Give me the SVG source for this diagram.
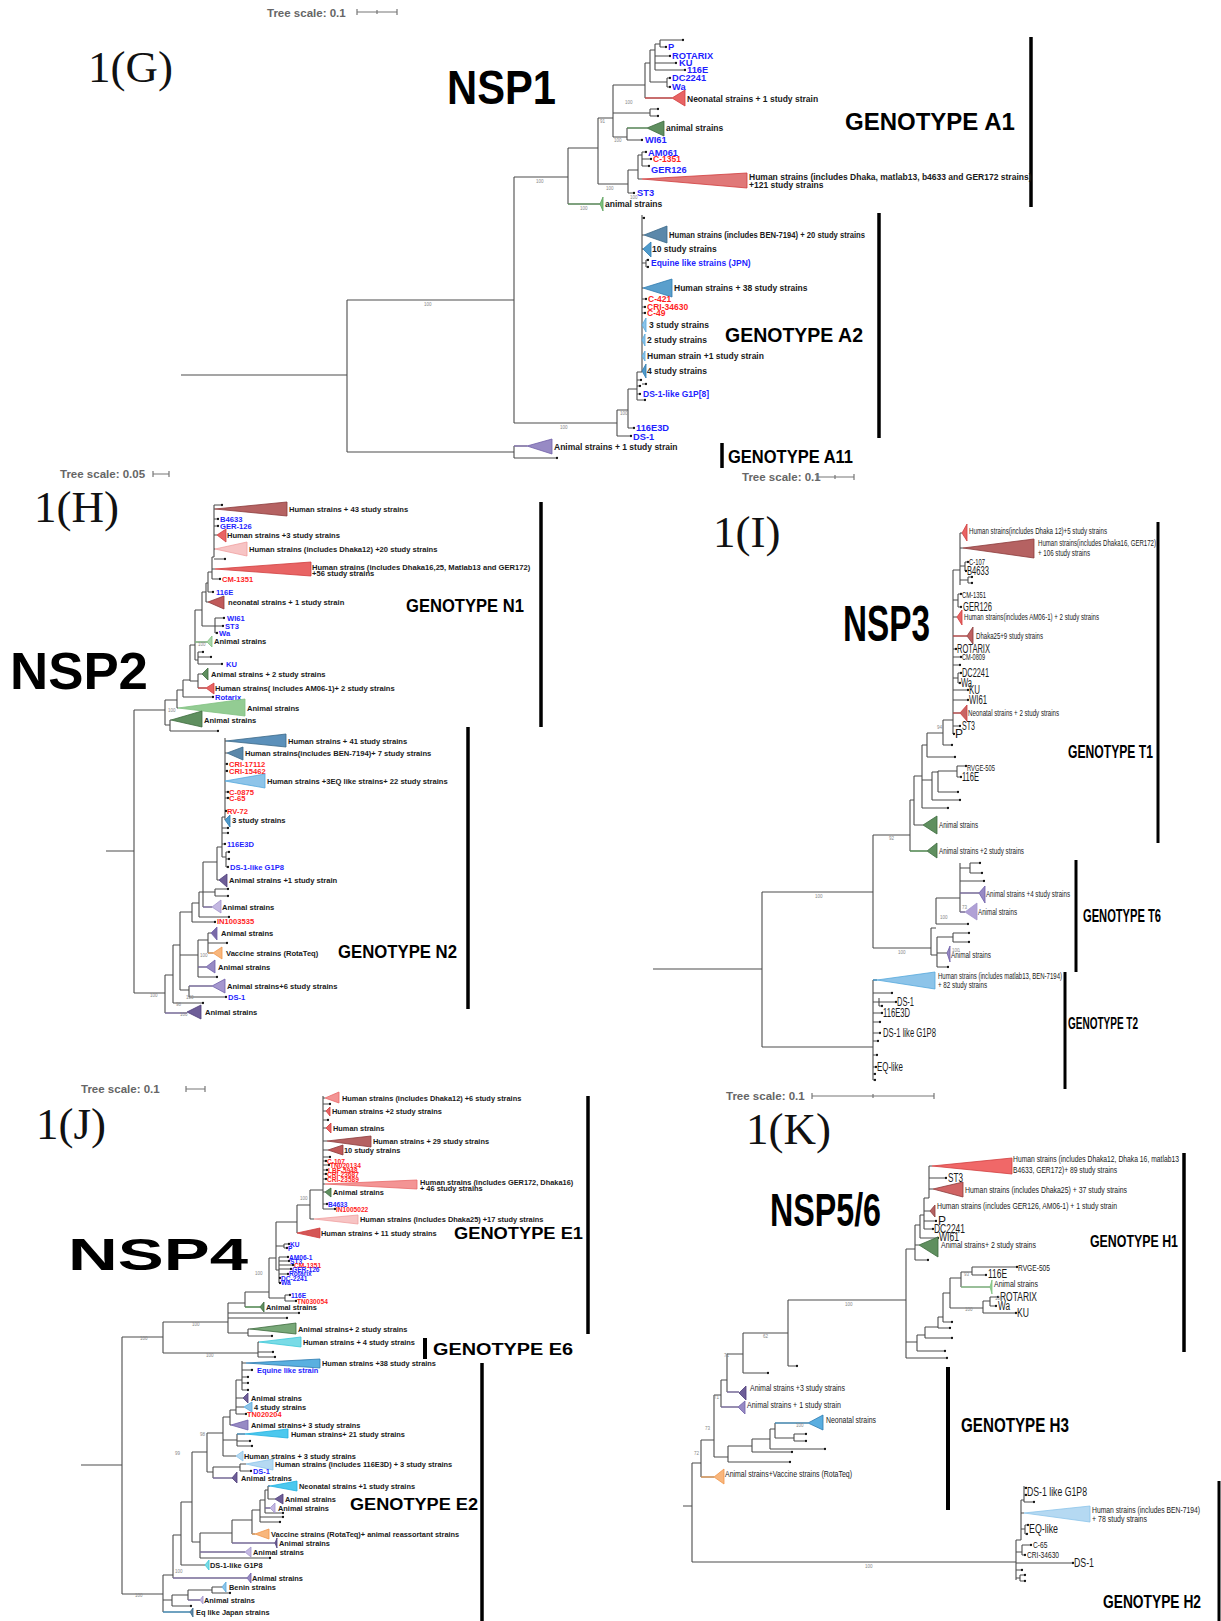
<svg xmlns="http://www.w3.org/2000/svg" width="1221" height="1621" viewBox="0 0 1221 1621">
<style>
.br{fill:none;stroke:#4d4d4d;stroke-width:1.1}
.dt{fill:none;stroke:#111;stroke-width:2.3;stroke-linecap:round}
.cg{fill:none;stroke:#5aa05a;stroke-width:1.2}
.clg{fill:none;stroke:#90d090;stroke-width:1.2}
.cr{fill:none;stroke:#e04848;stroke-width:1.2}
.cp{fill:none;stroke:#8a78bc;stroke-width:1.2}
.co{fill:none;stroke:#f5a55a;stroke-width:1.2}
.cb{fill:none;stroke:#3aa0dc;stroke-width:1.2}
.bar{stroke:#000;stroke-width:3.5}
.sc{stroke:#777;stroke-width:1.2;fill:none}
text{font-family:"Liberation Sans",Arial,sans-serif}
.l{font-weight:bold;fill:#1a1a1a}
.b{fill:#1f1fff}
.r{fill:#ff1f1f}
.s1{font-size:8.5px}
.s1b{font-size:9.3px}
.s2{font-size:7.6px}
.s4{font-size:7.4px}
.s4s{font-size:6.6px}
.n{font-family:"Liberation Sans Narrow","Liberation Sans",Arial,sans-serif;fill:#1a1a1a;font-size:9px}
.nb{font-size:12px}
.pl{font-family:"Liberation Serif","Times New Roman",serif;font-size:45px;fill:#111}
.ti{font-weight:bold;fill:#000}
.gn{font-family:"Liberation Sans Narrow","Liberation Sans",Arial,sans-serif;font-weight:bold;fill:#000}
.ts{font-size:11.5px;font-weight:bold;fill:#666}
.bs{font-size:4.5px;fill:#888}
.t-red{fill:#e86464;stroke:#d03c3c;stroke-width:0.8}
.t-dred{fill:#b56262;stroke:#8c3b3b;stroke-width:0.8}
.t-pink{fill:#f7c4c4;stroke:#f0a0a0;stroke-width:0.8}
.t-salm{fill:#f39494;stroke:#e86a6a;stroke-width:0.8}
.t-dg{fill:#5f8f5f;stroke:#3d6b3d;stroke-width:0.8}
.t-lg{fill:#a9d6a9;stroke:#80c080;stroke-width:0.8}
.t-sb{fill:#5b88aa;stroke:#3b6888;stroke-width:0.8}
.t-bl{fill:#4f9bcc;stroke:#2e7bb0;stroke-width:0.8}
.t-lb{fill:#8dc4e9;stroke:#55a8dc;stroke-width:0.8}
.t-vb{fill:#b5d9f2;stroke:#8cc4ea;stroke-width:0.8}
.t-cy{fill:#4cc8ee;stroke:#1fb0e0;stroke-width:0.8}
.t-aq{fill:#79dbe6;stroke:#3cc8d8;stroke-width:0.8}
.t-dp{fill:#6e5e98;stroke:#4e3e78;stroke-width:0.8}
.t-pu{fill:#978ac4;stroke:#7060a8;stroke-width:0.8}
.t-lv{fill:#c4b8e2;stroke:#a294cc;stroke-width:0.8}
.t-or{fill:#f8b67c;stroke:#f0964a;stroke-width:0.8}
</style>
<rect width="1221" height="1621" fill="#fff"/>

<!-- ================= PANEL G : NSP1 ================= -->
<g id="panelG">
<g id="G-connectors">
<path class="br" d="M181 375H347 M347 300V452 M347 300H514 M514 177V423 M514 177H568 M514 423H617 M347 452H514 M514 446V458 M514 446H527 M514 458H557 M568 148V204 M568 148H598 M568 204H600 M598 118V184 M598 118H613 M598 184H628 M613 85V137 M613 85H645 M613 113H650 M650 109V116 M650 109H658 M650 116H658 M613 137H627 M627 128V140 M627 128H647 M627 140H642 M645 63V98 M645 63H650 M645 98H672 M650 50V82 M650 50H655 M655 44V70 M655 44H660 M660 40V47 M660 40H683 M660 47H666 M655 56H670 M655 63H676 M655 70H685 M650 82H667 M667 78V87 M667 78H670 M667 87H670 M628 170V193 M628 170H638 M638 155V179 M638 155H642 M642 152V166 M642 152H646 M642 159H651 M642 166H649 M638 179H642 M628 193H634 M617 410V436 M617 410H628 M617 436H631 M628 389V428 M628 389H637 M628 428H634 M637 372V400 M637 372H642 M637 380H641 M637 386H640 M637 394H640 M637 400H645 M642 215V372 M642 218H644 M642 235H644 M642 249H643 M642 263H646 M646 260V267 M646 260H648 M646 267H648 M642 288H643 M642 299H646 M642 307H645 M642 313H645 M642 384H646"/>
<path class="cg" d="M568 204H600 M627 128H647"/>
<path class="cr" d="M645 98H672"/>
<path class="cp" d="M514 446H527"/>
<path class="dt" d="M557 458h0.01 M683 40h0.01 M666 47h0.01 M670 56h0.01 M676 63h0.01 M685 70h0.01 M670 78h0.01 M670 87h0.01 M658 109h0.01 M658 116h0.01 M642 140h0.01 M646 152h0.01 M651 159h0.01 M649 166h0.01 M634 193h0.01 M631 436h0.01 M634 428h0.01 M641 380h0.01 M640 386h0.01 M640 394h0.01 M645 400h0.01 M644 218h0.01 M648 260h0.01 M648 267h0.01 M646 299h0.01 M645 307h0.01 M645 313h0.01 M646 384h0.01"/>
</g>
<g id="G-titles">
<text class="pl" x="88" y="82" font-size="46">1(G)</text>
<text class="ti" x="447" y="104" font-size="48" textLength="109" lengthAdjust="spacingAndGlyphs">NSP1</text>
<text class="ts" x="267" y="17">Tree scale: 0.1</text>
<path class="sc" d="M357 12H397 M357 9V15 M397 9V15 M377 10V14"/>
<text class="ts" x="742" y="481" font-size="10.5">Tree scale: 0.1</text>
<path class="sc" d="M817 477H854 M817 474V480 M854 474V480 M835 475V479"/>
</g>
<g id="G-genotypes">
<line class="bar" x1="1031" y1="37" x2="1031" y2="207"/>
<text class="ti" x="845" y="130" font-size="24">GENOTYPE A1</text>
<line class="bar" x1="879" y1="213" x2="879" y2="438"/>
<text class="ti" x="725" y="342" font-size="19.5">GENOTYPE A2</text>
<line class="bar" x1="722" y1="443" x2="722" y2="468"/>
<text class="ti" x="728" y="463" font-size="18" textLength="125" lengthAdjust="spacingAndGlyphs">GENOTYPE A11</text>
</g>
<g id="G-nodes">
<g id="G-ref1"><text class="l b s1b" x="668" y="50">P</text><text class="l b s1b" x="672" y="59">ROTARIX</text><text class="l b s1b" x="679" y="66">KU</text><text class="l b s1b" x="687" y="73">116E</text><text class="l b s1b" x="672" y="81">DC2241</text><text class="l b s1b" x="672" y="90">Wa</text></g>
<g id="G-neo"><polygon class="t-red" points="672,98 685,90 685,106"/><text class="l s1" x="687" y="102">Neonatal strains + 1 study strain</text></g>
<g id="G-an1"><polygon class="t-dg" points="647,128 664,121 664,136"/><text class="l s1" x="666" y="131">animal strains</text></g>
<g id="G-ref2"><text class="l b s1b" x="645" y="143">WI61</text><text class="l b s1b" x="648" y="156">AM061</text><text class="l r s1" x="653" y="162">C-1351</text><text class="l b s1b" x="651" y="173">GER126</text><text class="l b s1b" x="637" y="196">ST3</text></g>
<g id="G-hum"><polygon class="t-red" points="642,179 747,173 747,188" style="fill:#e07878"/><text class="l s1" x="749" y="180">Human strains (includes Dhaka, matlab13, b4633 and GER172 strains)</text><text class="l s1" x="749" y="188">+121 study strains</text></g>
<g id="G-an2"><polygon class="t-lg" points="600,204 603,197 603,211" style="fill:#7cc47c;stroke:#5aa05a"/><text class="l s1" x="605" y="207">animal strains</text></g>
<g id="G-a2a"><polygon class="t-sb" points="644,235 667,226 667,243"/><text class="l s1" x="669" y="238" textLength="196" lengthAdjust="spacingAndGlyphs">Human strains (includes BEN-7194) + 20 study strains</text></g>
<g id="G-a2b"><polygon class="t-bl" points="643,249 651,242 651,257"/><text class="l s1" x="652" y="252">10 study strains</text></g>
<text id="G-eq" class="l b s1" x="651" y="266">Equine like strains (JPN)</text>
<g id="G-a2c"><polygon class="t-bl" points="643,288 672,279 672,297" style="fill:#5a9fcc"/><text class="l s1" x="674" y="291">Human strains + 38 study strains</text></g>
<g id="G-red2"><text class="l r s1" x="648" y="302">C-421</text><text class="l r s1" x="647" y="310">CRI-34630</text><text class="l r s1" x="647" y="316">C-49</text></g>
<g id="G-a2d"><polygon class="t-lb" points="642,325 646,318 646,332"/><text class="l s1" x="649" y="328">3 study strains</text></g>
<g id="G-a2e"><polygon class="t-lb" points="642,340 645,334 645,346"/><text class="l s1" x="647" y="343">2 study strains</text></g>
<g id="G-a2f"><polygon class="t-lb" points="642,356 645,351 645,361"/><text class="l s1" x="647" y="359">Human strain +1 study strain</text></g>
<g id="G-a2g"><polygon class="t-bl" points="642,371 646,364 646,378"/><text class="l s1" x="647" y="374">4 study strains</text></g>
<g id="G-ref3"><text class="l b s1" x="643" y="397">DS-1-like G1P[8]</text><text class="l b s1b" x="636" y="431">116E3D</text><text class="l b s1b" x="633" y="440">DS-1</text></g>
<g id="G-a11"><polygon class="t-pu" points="527,446 552,439 552,454"/><text class="l s1" x="554" y="450">Animal strains + 1 study strain</text></g>
<g id="G-boot"><text class="bs" x="424" y="306">100</text><text class="bs" x="536" y="183">100</text><text class="bs" x="560" y="429">100</text><text class="bs" x="580" y="210">100</text><text class="bs" x="600" y="123">91</text><text class="bs" x="606" y="190">100</text><text class="bs" x="625" y="104">100</text><text class="bs" x="614" y="142">100</text><text class="bs" x="620" y="415">100</text><text class="bs" x="630" y="199">100</text></g>
</g>
</g>

<!-- ================= PANEL H : NSP2 ================= -->
<g id="panelH">
<g id="H-connectors">
<path class="br" d="M106 851H134 M134 710V993 M134 710H165 M134 993H165 M165 700V725 M165 700H177 M165 725H170 M170 720V731 M170 720H171 M170 731H218 M177 690V708 M177 708H178 M177 690H183 M183 680V697 M183 697H213 M183 680H190 M190 645V681 M190 681H198 M198 674V688 M198 674H202 M198 688H206 M190 645H195 M195 610V660 M195 642H207 M195 660H198 M198 652V664 M198 652H203 M198 657H211 M198 664H222 M195 610H202 M202 592V626 M202 626H215 M215 618V633 M215 618H224 M215 626H223 M215 633H217 M202 592H206 M206 583V602 M206 602H208 M206 583H208 M208 572V592 M208 592H213 M208 572H212 M212 557V579 M212 579H220 M212 569H215 M212 557H214 M214 505V557 M214 509H215 M214 519H218 M214 526H218 M214 535H217 M214 549H215 M214 505H222 M214 559H225 M165 975V1013 M165 1013H187 M165 975H173 M173 945V1003 M173 1003H203 M173 945H180 M180 912V990 M180 990H189 M189 986V997 M189 986H212 M189 997H226 M180 955H198 M198 940V977 M198 940H208 M208 933V953 M208 933H211 M208 943H227 M208 953H213 M198 967H206 M198 977H217 M180 912H192 M192 903V922 M192 922H215 M192 903H199 M199 892V917 M199 917H229 M199 892H203 M203 862V907 M203 907H212 M203 892H215 M215 889V896 M215 889H228 M215 896H228 M203 862H217 M217 847V880 M217 880H219 M217 847H222 M222 817V857 M222 844H225 M222 857H226 M226 852V867 M226 852H229 M226 859H229 M226 867H228 M222 817H225 M225 738V820 M225 741H226 M225 753H227 M225 764H227 M225 771H227 M225 792H228 M225 798H228 M225 811H226 M222 828H228 M222 833H228"/>
<path class="clg" d="M195 642H207"/>
<path class="cr" d="M198 688H206"/>
<path class="cp" d="M165 1013H187 M189 986H212 M198 967H206 M203 907H212"/>
<path class="co" d="M208 953H213"/>
<path class="dt" d="M218 731h0.01 M213 697h0.01 M203 652h0.01 M211 657h0.01 M222 664h0.01 M224 618h0.01 M223 626h0.01 M217 633h0.01 M213 592h0.01 M220 579h0.01 M218 519h0.01 M218 526h0.01 M222 505h0.01 M225 559h0.01 M203 1003h0.01 M226 997h0.01 M227 943h0.01 M217 977h0.01 M215 922h0.01 M229 917h0.01 M228 889h0.01 M228 896h0.01 M225 844h0.01 M229 852h0.01 M229 859h0.01 M228 867h0.01 M227 764h0.01 M227 771h0.01 M228 792h0.01 M228 798h0.01 M226 811h0.01 M228 828h0.01 M228 833h0.01"/>
</g>
<g id="H-titles">
<text class="pl" x="34" y="522" font-size="44">1(H)</text>
<text class="ti" x="10" y="689" font-size="52" textLength="138" lengthAdjust="spacingAndGlyphs">NSP2</text>
<text class="ts" x="60" y="478" font-size="10.5">Tree scale: 0.05</text>
<path class="sc" d="M153 474H169 M153 471V477 M169 471V477"/>
</g>
<g id="H-genotypes">
<line class="bar" x1="541" y1="502" x2="541" y2="727"/>
<text class="ti" x="406" y="612" font-size="18" textLength="118" lengthAdjust="spacingAndGlyphs">GENOTYPE N1</text>
<line class="bar" x1="468" y1="727" x2="468" y2="1009"/>
<text class="ti" x="338" y="958" font-size="18" textLength="119" lengthAdjust="spacingAndGlyphs">GENOTYPE N2</text>
</g>
<g id="H-nodes">
<g id="H-c1"><polygon class="t-dred" points="215,509 287,502 287,516"/><text class="l s2" x="289" y="512">Human strains + 43 study strains</text></g>
<g id="H-ref1"><text class="l b s2" x="220" y="522">B4633</text><text class="l b s2" x="220" y="529">GER-126</text></g>
<g id="H-c2"><polygon class="t-red" points="217,535 226,529 226,542"/><text class="l s2" x="227" y="538">Human strains +3 study strains</text></g>
<g id="H-c3"><polygon class="t-pink" points="215,549 247,542 247,556"/><text class="l s2" x="249" y="552">Human strains (includes Dhaka12) +20 study strains</text></g>
<g id="H-c4"><polygon class="t-red" points="215,569 311,562 311,576"/><text class="l s2" x="312" y="570">Human strains (includes Dhaka16,25, Matlab13 and GER172)</text><text class="l s2" x="312" y="576">+56 study strains</text></g>
<text id="H-cm" class="l r s2" x="222" y="582">CM-1351</text>
<text id="H-116e" class="l b s2" x="216" y="595">116E</text>
<g id="H-c5"><polygon class="t-dred" points="208,602 224,596 224,609" style="fill:#c05a5a"/><text class="l s2" x="228" y="605">neonatal strains + 1 study strain</text></g>
<g id="H-ref2"><text class="l b s2" x="227" y="621">WI61</text><text class="l b s2" x="225" y="629">ST3</text><text class="l b s2" x="219" y="636">Wa</text></g>
<g id="H-c6"><polygon class="t-lg" points="207,642 212,636 212,647"/><text class="l s2" x="214" y="644">Animal strains</text></g>
<text id="H-ku" class="l b s2" x="226" y="667">KU</text>
<g id="H-c7"><polygon class="t-dg" points="202,674 208,668 208,680"/><text class="l s2" x="211" y="677">Animal strains + 2 study strains</text></g>
<g id="H-c8"><polygon class="t-red" points="206,688 214,683 214,694"/><text class="l s2" x="215" y="691">Human strains( includes AM06-1)+ 2 study strains</text></g>
<text id="H-rot" class="l b s2" x="215" y="700">Rotarix</text>
<g id="H-c9"><polygon class="t-lg" points="178,708 245,699 245,716" style="fill:#93cc93"/><text class="l s2" x="247" y="711">Animal strains</text></g>
<g id="H-c10"><polygon class="t-dg" points="171,720 202,711 202,727"/><text class="l s2" x="204" y="723">Animal strains</text></g>
<g id="H-d1"><polygon class="t-sb" points="226,741 286,734 286,747" style="fill:#5b90ba"/><text class="l s2" x="288" y="744">Human strains + 41 study strains</text></g>
<g id="H-d2"><polygon class="t-sb" points="227,753 243,747 243,760"/><text class="l s2" x="245" y="756">Human strains(includes BEN-7194)+ 7 study strains</text></g>
<g id="H-red1"><text class="l r s2" x="229" y="767">CRI-17112</text><text class="l r s2" x="229" y="774">CRI-15462</text></g>
<g id="H-d3"><polygon class="t-lb" points="225,781 265,774 265,788"/><text class="l s2" x="267" y="784">Human strains +3EQ like strains+ 22 study strains</text></g>
<g id="H-red2"><text class="l r s2" x="229" y="795">C-0875</text><text class="l r s2" x="229" y="801">C-65</text><text class="l r s2" x="227" y="814">RV-72</text></g>
<g id="H-d4"><polygon class="t-bl" points="225,820 230,815 230,827"/><text class="l s2" x="232" y="823">3 study strains</text></g>
<g id="H-ref3"><text class="l b s2" x="227" y="847">116E3D</text><text class="l b s2" x="230" y="870">DS-1-like G1P8</text></g>
<g id="H-d5"><polygon class="t-dp" points="219,880 227,874 227,887"/><text class="l s2" x="229" y="883">Animal strains +1 study strain</text></g>
<g id="H-d6"><polygon class="t-lv" points="212,907 221,900 221,913"/><text class="l s2" x="222" y="910">Animal strains</text></g>
<text id="H-in" class="l r s2" x="217" y="924">IN1003535</text>
<g id="H-d7"><polygon class="t-pu" points="211,933 217,927 217,940" style="fill:#7a6aa8"/><text class="l s2" x="221" y="936">Animal strains</text></g>
<g id="H-d8"><polygon class="t-or" points="213,953 222,947 222,959"/><text class="l s2" x="226" y="956">Vaccine strains (RotaTeq)</text></g>
<g id="H-d9"><polygon class="t-pu" points="206,967 215,960 215,973"/><text class="l s2" x="218" y="970">Animal strains</text></g>
<g id="H-d10"><polygon class="t-pu" points="212,986 225,979 225,993" style="fill:#a597cf"/><text class="l s2" x="227" y="989">Animal strains+6 study strains</text></g>
<text id="H-ds1" class="l b s2" x="228" y="1000">DS-1</text>
<g id="H-d11"><polygon class="t-dp" points="187,1012 201,1005 201,1019"/><text class="l s2" x="205" y="1015">Animal strains</text></g>
<g id="H-boot"><text class="bs" x="150" y="997">100</text><text class="bs" x="168" y="712">100</text><text class="bs" x="198" y="646">100</text><text class="bs" x="180" y="1016">100</text><text class="bs" x="200" y="957">100</text><text class="bs" x="176" y="1006">98</text><text class="bs" x="186" y="999">100</text></g>
</g>
</g>

<!-- ================= PANEL I : NSP3 ================= -->
<g id="panelI">
<g id="I-connectors">
<path class="br" d="M653 969H762 M762 892V1047 M762 892H873 M762 1047H873 M873 835V948 M873 835H910 M873 948H931 M910 800V851 M910 851H927 M910 800H914 M914 776V825 M914 825H923 M914 776H922 M922 745V808 M922 808H948 M922 780H932 M932 772V800 M932 800H960 M932 772H938 M938 771V792 M938 771H957 M938 792H958 M957 766V777 M957 766H966 M957 777H961 M922 745H927 M927 733V757 M927 757H955 M927 733H943 M943 720V745 M943 745H952 M943 720H953 M953 570V734 M953 570H960 M960 533V585 M960 533H962 M960 548H963 M960 566H965 M965 562V571 M965 562H968 M965 571H966 M960 580H968 M968 577V583 M968 577H972 M968 583H972 M953 600H958 M958 594V607 M958 594H961 M958 607H961 M953 617H957 M953 636H967 M953 649H956 M953 657H961 M953 665H960 M953 678H958 M958 673V683 M958 673H961 M958 683H960 M953 690H968 M953 700H968 M953 713H960 M953 726H960 M953 734H954 M931 928V955 M931 928H936 M936 898V924 M936 898H960 M960 863V912 M960 868H970 M970 863V873 M970 863H980 M970 873H982 M960 881H984 M960 893H979 M960 912H965 M936 924H968 M931 955H937 M937 937V967 M937 937H953 M953 933V942 M953 933H969 M953 942H969 M937 953H947 M937 967H948 M873 980V1080 M873 980H877 M873 993H892 M873 1002H879 M879 998V1006 M879 1002H896 M879 1006H882 M873 1013H882 M873 1022H880 M873 1033H880 M873 1041H878 M873 1055H877 M873 1067H876 M873 1074H875 M873 1080H875"/>
<path class="cg" d="M910 851H927"/>
<path class="cr" d="M953 636H967 M953 713H960"/>
<path class="cp" d="M960 893H979 M960 912H965"/>
<path class="cb" d="M873 980H877"/>
<path class="dt" d="M948 808h0.01 M960 800h0.01 M958 792h0.01 M966 766h0.01 M961 777h0.01 M955 757h0.01 M952 745h0.01 M968 562h0.01 M966 571h0.01 M972 577h0.01 M972 583h0.01 M961 594h0.01 M961 607h0.01 M956 649h0.01 M961 657h0.01 M960 665h0.01 M961 673h0.01 M960 683h0.01 M968 690h0.01 M968 700h0.01 M960 726h0.01 M954 734h0.01 M980 863h0.01 M982 873h0.01 M984 881h0.01 M968 924h0.01 M969 933h0.01 M969 942h0.01 M948 967h0.01 M892 993h0.01 M896 1002h0.01 M882 1006h0.01 M882 1013h0.01 M880 1022h0.01 M880 1033h0.01 M878 1041h0.01 M877 1055h0.01 M876 1067h0.01 M875 1074h0.01 M875 1080h0.01"/>
</g>
<g id="I-titles">
<text class="pl" x="713" y="547" font-size="44">1(I)</text>
<text class="gn" x="843" y="641" font-size="50" textLength="87" lengthAdjust="spacingAndGlyphs">NSP3</text>
<text class="ts" x="726" y="1100" font-size="10.5">Tree scale: 0.1</text>
<path class="sc" d="M812 1096H934 M812 1093V1099 M934 1093V1099 M873 1094V1098"/>
</g>
<g id="I-genotypes">
<line class="bar" x1="1158" y1="522" x2="1158" y2="843" style="stroke-width:3"/>
<text class="gn" x="1068" y="758" font-size="18" textLength="85" lengthAdjust="spacingAndGlyphs">GENOTYPE T1</text>
<line class="bar" x1="1076" y1="860" x2="1076" y2="972" style="stroke-width:3"/>
<text class="gn" x="1083" y="922" font-size="19" textLength="78" lengthAdjust="spacingAndGlyphs">GENOTYPE T6</text>
<line class="bar" x1="1065" y1="972" x2="1065" y2="1089" style="stroke-width:3"/>
<text class="gn" x="1068" y="1029" font-size="16" textLength="70" lengthAdjust="spacingAndGlyphs">GENOTYPE T2</text>
</g>
<g id="I-nodes">
<g id="I-c1"><polygon class="t-red" points="962,533 967,524 967,541"/><text class="n" x="969" y="534" textLength="138" lengthAdjust="spacingAndGlyphs">Human strains(includes Dhaka 12)+5 study strains</text></g>
<g id="I-c2"><polygon class="t-dred" points="963,548 1034,539 1034,558"/><text class="n" x="1038" y="546" textLength="118" lengthAdjust="spacingAndGlyphs">Human strains(includes Dhaka16, GER172)</text><text class="n" x="1038" y="556" textLength="52" lengthAdjust="spacingAndGlyphs">+ 106 study strains</text></g>
<text id="I-c107" class="n r" x="969" y="565" textLength="16" lengthAdjust="spacingAndGlyphs">C-107</text>
<text id="I-b4633" class="n b nb" x="967" y="575" textLength="22" lengthAdjust="spacingAndGlyphs">B4633</text>
<text id="I-cm" class="n r" x="962" y="598" textLength="24" lengthAdjust="spacingAndGlyphs">CM-1351</text>
<text id="I-ger" class="n b nb" x="963" y="611" textLength="29" lengthAdjust="spacingAndGlyphs">GER126</text>
<g id="I-c3"><polygon class="t-red" points="957,617 962,610 962,625"/><text class="n" x="964" y="620" textLength="135" lengthAdjust="spacingAndGlyphs">Human strains(includes AM06-1) + 2 study strains</text></g>
<g id="I-c4"><polygon class="t-dred" points="967,636 973,627 973,644" style="fill:#c06060"/><text class="n" x="976" y="639" textLength="67" lengthAdjust="spacingAndGlyphs">Dhaka25+9 study strains</text></g>
<text id="I-rot" class="n b nb" x="957" y="653" textLength="33" lengthAdjust="spacingAndGlyphs">ROTARIX</text>
<text id="I-cm0809" class="n r" x="962" y="660" textLength="23" lengthAdjust="spacingAndGlyphs">CM-0809</text>
<text id="I-dc" class="n b nb" x="962" y="677" textLength="27" lengthAdjust="spacingAndGlyphs">DC2241</text>
<text id="I-wa" class="n b nb" x="961" y="687" textLength="11" lengthAdjust="spacingAndGlyphs">Wa</text>
<text id="I-ku" class="n b nb" x="969" y="694" textLength="11" lengthAdjust="spacingAndGlyphs">KU</text>
<text id="I-wi" class="n b nb" x="969" y="704" textLength="18" lengthAdjust="spacingAndGlyphs">WI61</text>
<g id="I-c5"><polygon class="t-red" points="960,713 967,705 967,721" style="fill:#c86464"/><text class="n" x="968" y="716" textLength="91" lengthAdjust="spacingAndGlyphs">Neonatal strains + 2 study strains</text></g>
<text id="I-st3" class="n b nb" x="962" y="730" textLength="13" lengthAdjust="spacingAndGlyphs">ST3</text>
<text id="I-p" class="n b nb" x="955" y="738">P</text>
<text id="I-rv" class="n r" x="967" y="771" textLength="28" lengthAdjust="spacingAndGlyphs">RVGE-505</text>
<text id="I-116e" class="n b nb" x="962" y="781" textLength="17" lengthAdjust="spacingAndGlyphs">116E</text>
<g id="I-c6"><polygon class="t-dg" points="923,825 937,816 937,834"/><text class="n" x="939" y="828" textLength="39" lengthAdjust="spacingAndGlyphs">Animal strains</text></g>
<g id="I-c7"><polygon class="t-dg" points="927,851 937,843 937,858"/><text class="n" x="939" y="854" textLength="85" lengthAdjust="spacingAndGlyphs">Animal strains +2 study strains</text></g>
<g id="I-c8"><polygon class="t-pu" points="979,893 985,886 985,903"/><text class="n" x="986" y="897" textLength="84" lengthAdjust="spacingAndGlyphs">Animal strains +4 study strains</text></g>
<g id="I-c9"><polygon class="t-lv" points="965,912 977,903 977,920" style="fill:#b0a0d6"/><text class="n" x="978" y="915" textLength="39" lengthAdjust="spacingAndGlyphs">Animal strains</text></g>
<g id="I-c10"><polygon class="t-pu" points="947,953 950,946 950,962"/><text class="n" x="951" y="958" textLength="40" lengthAdjust="spacingAndGlyphs">Animal strains</text></g>
<g id="I-c11"><polygon class="t-lb" points="877,980 935,972 935,989"/><text class="n" x="938" y="979" textLength="124" lengthAdjust="spacingAndGlyphs">Human strains (includes matlab13, BEN-7194)</text><text class="n" x="938" y="988" textLength="49" lengthAdjust="spacingAndGlyphs">+ 82 study strains</text></g>
<text id="I-ds1" class="n b nb" x="897" y="1006" textLength="17" lengthAdjust="spacingAndGlyphs">DS-1</text>
<text id="I-116e3d" class="n b nb" x="883" y="1017" textLength="27" lengthAdjust="spacingAndGlyphs">116E3D</text>
<text id="I-dsl" class="n b nb" x="883" y="1037" textLength="53" lengthAdjust="spacingAndGlyphs">DS-1 like G1P8</text>
<text id="I-eq" class="n b nb" x="877" y="1071" textLength="26" lengthAdjust="spacingAndGlyphs">EQ-like</text>
<g id="I-boot"><text class="bs" x="815" y="898">100</text><text class="bs" x="898" y="954">100</text><text class="bs" x="889" y="840">92</text><text class="bs" x="937" y="729">94</text><text class="bs" x="940" y="919">100</text><text class="bs" x="962" y="909">73</text><text class="bs" x="952" y="952">100</text></g>
</g>
</g>

<!-- ================= PANEL J : NSP4 ================= -->
<g id="panelJ">
<g id="J-connectors">
<path class="br" d="M81 1465H122 M122 1337V1594 M122 1337H163 M122 1594H163 M163 1322V1353 M163 1322H228 M163 1353H258 M258 1342V1357 M258 1342H259 M258 1352H273 M258 1357H275 M228 1303V1333 M228 1303H245 M228 1313H299 M228 1318H287 M228 1333H248 M248 1329V1336 M248 1329H250 M248 1336H272 M245 1292V1307 M245 1307H260 M245 1292H269 M269 1258V1298 M269 1298H285 M285 1295V1301 M285 1295H290 M285 1301H296 M269 1258H276 M276 1222V1270 M276 1222H297 M276 1246H284 M284 1244V1248 M284 1244H289 M284 1248H287 M276 1270H279 M279 1257V1283 M279 1257H288 M279 1261H289 M279 1265H293 M279 1269H291 M279 1274H288 M279 1278H280 M279 1283H280 M297 1205V1233 M297 1205H310 M310 1190V1219 M310 1219H314 M310 1190H323 M323 1096V1209 M323 1098H325 M323 1104H330 M323 1111H326 M323 1120H328 M323 1128H326 M323 1141H327 M323 1150H328 M323 1157H330 M323 1161H326 M323 1165H329 M323 1170H327 M323 1174H326 M323 1179H326 M323 1184H325 M323 1192H325 M323 1204H327 M323 1209H335 M163 1575V1612 M163 1575H173 M163 1600H172 M163 1612H190 M172 1595V1606 M172 1595H188 M172 1606H191 M188 1590V1600 M188 1590H212 M188 1600H200 M212 1587V1593 M212 1587H222 M212 1593H230 M173 1535V1578 M173 1578H247 M173 1535H181 M181 1502V1565 M181 1565H205 M181 1502H192 M192 1452V1542 M192 1452H207 M192 1542H200 M200 1533V1558 M200 1533H232 M200 1552H245 M200 1558H270 M232 1520V1543 M232 1520H252 M232 1543H275 M252 1510V1534 M252 1510H260 M252 1534H255 M260 1500V1522 M260 1500H265 M260 1517H283 M260 1522H280 M265 1490V1513 M265 1490H268 M265 1508H270 M265 1513H283 M268 1486V1499 M268 1486H270 M268 1499H275 M207 1433V1472 M207 1433H223 M207 1472H213 M213 1467V1478 M213 1467H240 M213 1478H232 M240 1464V1471 M240 1464H246 M240 1471H251 M223 1417V1456 M223 1417H230 M223 1440H237 M223 1456H236 M237 1434V1446 M237 1434H245 M237 1441H250 M237 1446H252 M230 1410V1425 M230 1410H236 M230 1425H231 M236 1380V1414 M236 1380H242 M236 1398H243 M236 1407H244 M236 1414H246 M242 1361V1390 M242 1363H246 M242 1370H252 M242 1377H248 M242 1383H248 M242 1390H248"/>
<path class="cp" d="M173 1578H247 M200 1552H245 M232 1543H275 M213 1478H232 M265 1508H270 M188 1600H200"/>
<path class="co" d="M252 1534H255"/>
<path class="cb" d="M163 1612H190 M237 1434H245 M268 1486H270"/>
<path class="cg" d="M245 1307H260"/>
<path class="dt" d="M273 1352h0.01 M275 1357h0.01 M299 1313h0.01 M287 1318h0.01 M272 1336h0.01 M290 1295h0.01 M296 1301h0.01 M289 1244h0.01 M287 1248h0.01 M288 1257h0.01 M289 1261h0.01 M293 1265h0.01 M291 1269h0.01 M288 1274h0.01 M280 1278h0.01 M280 1283h0.01 M330 1104h0.01 M328 1120h0.01 M330 1157h0.01 M326 1161h0.01 M329 1165h0.01 M327 1170h0.01 M326 1174h0.01 M326 1179h0.01 M327 1204h0.01 M335 1209h0.01 M191 1606h0.01 M230 1593h0.01 M270 1558h0.01 M283 1517h0.01 M280 1522h0.01 M283 1513h0.01 M251 1471h0.01 M250 1441h0.01 M252 1446h0.01 M246 1414h0.01 M252 1370h0.01 M248 1377h0.01 M248 1383h0.01 M248 1390h0.01"/>
</g>
<g id="J-titles">
<text class="pl" x="36" y="1139" font-size="45">1(J)</text>
<text class="ti" x="68" y="1270" font-size="44" textLength="180" lengthAdjust="spacingAndGlyphs">NSP4</text>
<text class="ts" x="81" y="1093">Tree scale: 0.1</text>
<path class="sc" d="M186 1089H205 M186 1086V1092 M205 1086V1092"/>
</g>
<g id="J-genotypes">
<line class="bar" x1="588" y1="1096" x2="588" y2="1334"/>
<text class="ti" x="454" y="1239" font-size="16" textLength="129" lengthAdjust="spacingAndGlyphs">GENOTYPE E1</text>
<line class="bar" x1="425" y1="1338" x2="425" y2="1359" style="stroke-width:4"/>
<text class="ti" x="433" y="1355" font-size="16" textLength="140" lengthAdjust="spacingAndGlyphs">GENOTYPE E6</text>
<line class="bar" x1="482" y1="1363" x2="482" y2="1621"/>
<text class="ti" x="350" y="1510" font-size="16" textLength="128" lengthAdjust="spacingAndGlyphs">GENOTYPE E2</text>
</g>
<g id="J-nodes">
<g id="J-c1"><polygon class="t-salm" points="325,1098 339,1092 339,1103"/><text class="l s4" x="342" y="1101">Human strains (includes Dhaka12) +6 study strains</text></g>
<g id="J-c2"><polygon class="t-red" points="326,1111 330,1107 330,1116"/><text class="l s4" x="332" y="1114">Human strains +2 study strains</text></g>
<g id="J-c3"><polygon class="t-red" points="326,1128 331,1123 331,1133"/><text class="l s4" x="333" y="1131">Human strains</text></g>
<g id="J-c4"><polygon class="t-dred" points="327,1141 371,1136 371,1147"/><text class="l s4" x="373" y="1144">Human strains + 29 study strains</text></g>
<g id="J-c5"><polygon class="t-dred" points="328,1150 343,1145 343,1155" style="fill:#c05858"/><text class="l s4" x="344" y="1153">10 study strains</text></g>
<g id="J-red1"><text class="l r s4s" x="327" y="1163.5">C-107</text><text class="l r s4s" x="330" y="1168">TN020134</text><text class="l r s4s" x="328" y="1172.5">LBF-5948</text><text class="l r s4s" x="327" y="1177">CRI-23687</text><text class="l r s4s" x="327" y="1181.5">CRI-23589</text></g>
<g id="J-c6"><polygon class="t-salm" points="325,1184 417,1180 417,1189"/><text class="l s4" x="420" y="1185">Human strains (includes GER172, Dhaka16)</text><text class="l s4" x="420" y="1191">+ 46 study strains</text></g>
<g id="J-c7"><polygon class="t-dg" points="325,1192 331,1188 331,1197"/><text class="l s4" x="333" y="1195">Animal strains</text></g>
<g id="J-ref1"><text class="l b s4s" x="328" y="1207">B4633</text><text class="l r s4s" x="336" y="1212">IN1005022</text></g>
<g id="J-c8"><polygon class="t-pink" points="314,1219 358,1215 358,1224"/><text class="l s4" x="360" y="1222">Human strains (includes Dhaka25) +17 study strains</text></g>
<g id="J-c9"><polygon class="t-red" points="297,1233 320,1228 320,1238" style="fill:#d45656"/><text class="l s4" x="321" y="1236">Human strains + 11 study strains</text></g>
<g id="J-ref2"><text class="l b s4s" x="290" y="1246.5">KU</text><text class="l b s4s" x="288" y="1251">P</text><text class="l b s4s" x="289" y="1259.5">AM06-1</text><text class="l b s4s" x="290" y="1263.5">ST3</text><text class="l r s4s" x="294" y="1267.5">CM-1351</text><text class="l b s4s" x="292" y="1271.5">GER-126</text><text class="l b s4s" x="289" y="1276">Rotarix</text><text class="l b s4s" x="281" y="1280.5">DC-2241</text><text class="l b s4s" x="281" y="1285">Wa</text><text class="l b s4s" x="291" y="1297.5">116E</text><text class="l r s4s" x="297" y="1303.5">TN030054</text></g>
<g id="J-c10"><polygon class="t-dg" points="260,1307 264,1302 264,1312"/><text class="l s4" x="266" y="1310">Animal strains</text></g>
<g id="J-c11"><polygon class="t-dg" points="250,1329 296,1323 296,1334" style="fill:#78a878"/><text class="l s4" x="298" y="1332">Animal strains+ 2 study strains</text></g>
<g id="J-c12"><polygon class="t-aq" points="259,1342 301,1337 301,1347"/><text class="l s4" x="303" y="1345">Human strains + 4 study strains</text></g>
<g id="J-e1"><polygon class="t-bl" points="246,1363 320,1359 320,1368" style="fill:#5ab0e0"/><text class="l s4" x="322" y="1366">Human strains +38 study strains</text></g>
<text id="J-eq" class="l b s4" x="257" y="1373">Equine like strain</text>
<g id="J-e2"><polygon class="t-dp" points="243,1398 248,1393 248,1403"/><text class="l s4" x="251" y="1401">Animal strains</text></g>
<g id="J-e3"><polygon class="t-lb" points="244,1407 252,1402 252,1412"/><text class="l s4" x="254" y="1410">4 study strains</text></g>
<text id="J-tn" class="l r s4" x="247" y="1417">TN020204</text>
<g id="J-e4"><polygon class="t-pu" points="231,1425 248,1420 248,1430"/><text class="l s4" x="251" y="1428">Animal strains+ 3 study strains</text></g>
<g id="J-e5"><polygon class="t-cy" points="245,1434 288,1429 288,1438"/><text class="l s4" x="291" y="1437">Human strains+ 21 study strains</text></g>
<g id="J-e6"><polygon class="t-vb" points="236,1456 243,1451 243,1461"/><text class="l s4" x="244" y="1459">Human strains + 3 study strains</text></g>
<g id="J-e7"><polygon class="t-vb" points="246,1464 273,1459 273,1470"/><text class="l s4" x="275" y="1467">Human strains (includes 116E3D) + 3 study strains</text></g>
<text id="J-ds1" class="l b s4" x="253" y="1474">DS-1</text>
<g id="J-e8"><polygon class="t-dp" points="232,1478 237,1472 237,1483"/><text class="l s4" x="241" y="1481">Animal strains</text></g>
<g id="J-e9"><polygon class="t-cy" points="270,1486 297,1481 297,1491"/><text class="l s4" x="299" y="1489">Neonatal strains +1 study strains</text></g>
<g id="J-e10"><polygon class="t-dp" points="275,1499 283,1494 283,1504"/><text class="l s4" x="285" y="1502">Animal strains</text></g>
<g id="J-e11"><polygon class="t-lv" points="270,1508 275,1503 275,1513"/><text class="l s4" x="278" y="1511">Animal strains</text></g>
<g id="J-e12"><polygon class="t-or" points="255,1534 269,1529 269,1539"/><text class="l s4" x="271" y="1537">Vaccine strains (RotaTeq)+ animal reassortant strains</text></g>
<g id="J-e13"><polygon class="t-dp" points="275,1543 277,1538 277,1548"/><text class="l s4" x="279" y="1546">Animal strains</text></g>
<g id="J-e14"><polygon class="t-lv" points="245,1552 251,1547 251,1557"/><text class="l s4" x="253" y="1555">Animal strains</text></g>
<g id="J-e15"><polygon class="t-aq" points="205,1565 209,1560 209,1570"/><text class="l s4" x="210" y="1568">DS-1-like G1P8</text></g>
<g id="J-e16"><polygon class="t-pu" points="247,1578 251,1573 251,1583"/><text class="l s4" x="252" y="1581">Animal strains</text></g>
<g id="J-e17"><polygon class="t-lb" points="222,1587 226,1582 226,1592"/><text class="l s4" x="229" y="1590">Benin strains</text></g>
<g id="J-e18"><polygon class="t-lv" points="200,1600 203,1596 203,1604"/><text class="l s4" x="204" y="1603">Animal strains</text></g>
<g id="J-e19"><polygon class="t-sb" points="190,1612 193,1608 193,1617"/><text class="l s4" x="196" y="1615">Eq like Japan strains</text></g>
<g id="J-boot"><text class="bs" x="140" y="1340">100</text><text class="bs" x="206" y="1357">100</text><text class="bs" x="192" y="1326">100</text><text class="bs" x="300" y="1200">100</text><text class="bs" x="255" y="1275">100</text><text class="bs" x="135" y="1597">100</text><text class="bs" x="175" y="1573">100</text><text class="bs" x="200" y="1436">98</text><text class="bs" x="175" y="1455">99</text></g>
</g>
</g>

<!-- ================= PANEL K : NSP5/6 ================= -->
<g id="panelK">
<g id="K-connectors">
<path class="br" d="M683 1506H692 M692 1463V1562 M692 1463H701 M692 1562H1016 M701 1440V1477 M701 1440H714 M701 1477H714 M714 1395V1457 M714 1395H721 M714 1457H728 M721 1380V1407 M721 1380H727 M721 1407H738 M727 1354V1392 M727 1354H743 M727 1392H739 M743 1333V1373 M743 1333H788 M743 1373H768 M788 1300V1366 M788 1300H906 M788 1366H797 M728 1446V1462 M728 1446H752 M728 1462H790 M752 1439V1452 M752 1439H770 M752 1452H792 M770 1429V1449 M770 1429H775 M770 1449H825 M775 1423V1438 M775 1423H808 M775 1438H794 M794 1434V1441 M794 1434H806 M794 1441H806 M906 1249V1358 M906 1249H915 M906 1342H917 M906 1358H947 M915 1225V1260 M915 1225H920 M915 1245H919 M915 1260H928 M920 1215V1238 M920 1215H924 M920 1238H938 M924 1198V1229 M924 1198H929 M924 1211H930 M924 1221H936 M924 1229H933 M929 1166V1198 M929 1166H932 M929 1178H946 M929 1189H933 M917 1335V1351 M917 1335H925 M917 1351H945 M925 1327V1338 M925 1327H938 M925 1338H952 M938 1317V1328 M938 1317H943 M938 1328H950 M943 1293V1322 M943 1293H950 M943 1322H952 M950 1278V1308 M950 1278H961 M950 1308H983 M961 1272V1287 M961 1272H972 M961 1287H990 M972 1267V1275 M972 1267H1017 M972 1275H986 M983 1301V1313 M983 1301H990 M983 1313H1016 M990 1297V1306 M990 1297H998 M990 1306H996 M1016 1540V1580 M1016 1540H1021 M1016 1552H1022 M1016 1563H1073 M1016 1570H1022 M1016 1578H1020 M1020 1575V1581 M1020 1575H1025 M1020 1581H1025 M1022 1545V1555 M1022 1545H1031 M1022 1555H1025 M1021 1500V1540 M1021 1500H1024 M1021 1513H1024 M1021 1529H1025 M1025 1525V1534 M1025 1525H1028 M1025 1534H1027 M1024 1486V1502 M1024 1488H1026 M1024 1495H1026 M1024 1502H1034"/>
<path class="clg" d="M961 1287H990"/>
<path class="cp" d="M721 1407H738 M727 1392H739"/>
<path class="co" d="M701 1477H714"/>
<path class="cb" d="M775 1423H808"/>
<path class="dt" d="M768 1373h0.01 M797 1366h0.01 M790 1462h0.01 M792 1452h0.01 M825 1449h0.01 M806 1434h0.01 M806 1441h0.01 M947 1358h0.01 M928 1260h0.01 M938 1238h0.01 M936 1221h0.01 M933 1229h0.01 M946 1178h0.01 M945 1351h0.01 M952 1338h0.01 M950 1328h0.01 M952 1322h0.01 M1017 1267h0.01 M986 1275h0.01 M1016 1313h0.01 M998 1297h0.01 M996 1306h0.01 M1073 1563h0.01 M1022 1570h0.01 M1025 1575h0.01 M1025 1581h0.01 M1031 1545h0.01 M1025 1555h0.01 M1028 1525h0.01 M1027 1534h0.01 M1026 1488h0.01 M1026 1495h0.01 M1034 1502h0.01"/>
</g>
<g id="K-titles">
<text class="pl" x="746" y="1144" font-size="45">1(K)</text>
<text class="gn" x="770" y="1226" font-size="46" textLength="111" lengthAdjust="spacingAndGlyphs">NSP5/6</text>
</g>
<g id="K-genotypes">
<line class="bar" x1="1184" y1="1153" x2="1184" y2="1352"/>
<text class="gn" x="1090" y="1247" font-size="17" textLength="88" lengthAdjust="spacingAndGlyphs">GENOTYPE H1</text>
<line class="bar" x1="948" y1="1367" x2="948" y2="1510" style="stroke-width:4"/>
<text class="gn" x="961" y="1432" font-size="21" textLength="108" lengthAdjust="spacingAndGlyphs">GENOTYPE H3</text>
<line class="bar" x1="1219" y1="1481" x2="1219" y2="1621" style="stroke-width:3"/>
<text class="gn" x="1103" y="1608" font-size="18" textLength="98" lengthAdjust="spacingAndGlyphs">GENOTYPE H2</text>
</g>
<g id="K-nodes">
<g id="K-c1"><polygon class="t-red" points="932,1166 1012,1158 1012,1174" style="fill:#f06868"/><text class="n" x="1013" y="1162" textLength="166" lengthAdjust="spacingAndGlyphs">Human strains (includes Dhaka12, Dhaka 16, matlab13</text><text class="n" x="1013" y="1173" textLength="104" lengthAdjust="spacingAndGlyphs">B4633, GER172)+ 89 study strains</text></g>
<text id="K-st3" class="n b nb" x="948" y="1182" textLength="15" lengthAdjust="spacingAndGlyphs">ST3</text>
<g id="K-c2"><polygon class="t-dred" points="933,1189 963,1182 963,1197" style="fill:#d06464"/><text class="n" x="965" y="1193" textLength="162" lengthAdjust="spacingAndGlyphs">Human strains (includes Dhaka25) + 37 study strains</text></g>
<g id="K-c3"><polygon class="t-dred" points="930,1211 935,1205 935,1217"/><text class="n" x="937" y="1209" textLength="180" lengthAdjust="spacingAndGlyphs">Human strains (includes GER126, AM06-1) + 1 study strain</text></g>
<g id="K-ref1"><text class="n b nb" x="938" y="1225">P</text><text class="n b nb" x="934" y="1233" textLength="31" lengthAdjust="spacingAndGlyphs">DC2241</text><text class="n b nb" x="939" y="1241" textLength="20" lengthAdjust="spacingAndGlyphs">WI61</text></g>
<g id="K-c4"><polygon class="t-dg" points="919,1245 938,1237 938,1257"/><text class="n" x="941" y="1248" textLength="95" lengthAdjust="spacingAndGlyphs">Animal strains+ 2 study strains</text></g>
<text id="K-rv" class="n r" x="1018" y="1271" textLength="32" lengthAdjust="spacingAndGlyphs">RVGE-505</text>
<text id="K-116e" class="n b nb" x="988" y="1278" textLength="19" lengthAdjust="spacingAndGlyphs">116E</text>
<g id="K-c5"><polygon class="t-lg" points="990,1287 992,1280 992,1294" style="fill:#90d090"/><text class="n" x="994" y="1287" textLength="44" lengthAdjust="spacingAndGlyphs">Animal strains</text></g>
<g id="K-ref2"><text class="n b nb" x="1000" y="1301" textLength="37" lengthAdjust="spacingAndGlyphs">ROTARIX</text><text class="n b nb" x="998" y="1310" textLength="12" lengthAdjust="spacingAndGlyphs">Wa</text><text class="n b nb" x="1017" y="1317" textLength="12" lengthAdjust="spacingAndGlyphs">KU</text></g>
<g id="K-c6"><polygon class="t-dp" points="739,1393 746,1386 746,1400"/><text class="n" x="750" y="1391" textLength="95" lengthAdjust="spacingAndGlyphs">Animal strains +3 study strains</text></g>
<g id="K-c7"><polygon class="t-pu" points="738,1407 745,1401 745,1414"/><text class="n" x="747" y="1408" textLength="94" lengthAdjust="spacingAndGlyphs">Animal strains + 1 study strain</text></g>
<g id="K-c8"><polygon class="t-bl" points="808,1423 823,1415 823,1430" style="fill:#5aaee0"/><text class="n" x="826" y="1423" textLength="50" lengthAdjust="spacingAndGlyphs">Neonatal strains</text></g>
<g id="K-c9"><polygon class="t-or" points="714,1477 724,1469 724,1484"/><text class="n" x="725" y="1477" textLength="127" lengthAdjust="spacingAndGlyphs">Animal strains+Vaccine strains (RotaTeq)</text></g>
<text id="K-dsl" class="n b nb" x="1027" y="1496" textLength="60" lengthAdjust="spacingAndGlyphs">DS-1 like G1P8</text>
<g id="K-c10"><polygon class="t-vb" points="1024,1513 1090,1506 1090,1522"/><text class="n" x="1092" y="1513" textLength="108" lengthAdjust="spacingAndGlyphs">Human strains (includes BEN-7194)</text><text class="n" x="1092" y="1522" textLength="55" lengthAdjust="spacingAndGlyphs">+ 78 study strains</text></g>
<text id="K-eq" class="n b nb" x="1029" y="1533" textLength="29" lengthAdjust="spacingAndGlyphs">EQ-like</text>
<text id="K-c65" class="n r" x="1033" y="1548" textLength="14.5" lengthAdjust="spacingAndGlyphs">C-65</text>
<text id="K-cri" class="n r" x="1027" y="1558" textLength="32" lengthAdjust="spacingAndGlyphs">CRI-34630</text>
<text id="K-ds1" class="n b nb" x="1074" y="1567" textLength="20" lengthAdjust="spacingAndGlyphs">DS-1</text>
<g id="K-boot"><text class="bs" x="845" y="1306">100</text><text class="bs" x="763" y="1338">62</text><text class="bs" x="865" y="1568">100</text><text class="bs" x="796" y="1427">100</text><text class="bs" x="724" y="1357">71</text><text class="bs" x="714" y="1399">71</text><text class="bs" x="705" y="1430">73</text><text class="bs" x="694" y="1455">72</text><text class="bs" x="995" y="1300">100</text><text class="bs" x="964" y="1276">93</text><text class="bs" x="965" y="1311">100</text></g>
</g>
</g>
</svg>
